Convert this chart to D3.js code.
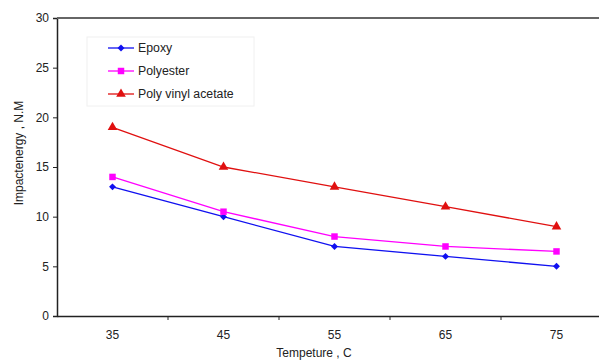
<!DOCTYPE html>
<html>
<head>
<meta charset="utf-8">
<script src="https://cdn.jsdelivr.net/npm/d3@7"></script>
<style>
body { margin: 0; background: #fff; }
text { font-family: "Liberation Sans", Arial, sans-serif; fill: #222; }
.axis text { font-size: 12px; }
.lbl { font-size: 12px; }
.legend { font-size: 12.3px; }
</style>
</head>
<body>
<svg id="chart" width="599" height="363"></svg>
<script>
let temps = ["35", "45", "55", "65", "75"]
let epoxy = [13, 10, 7, 6, 5]
let polyester = [14, 10.5, 8, 7, 6.5]
let pva = [19, 15, 13, 11, 9]
let seriesNames = ["Epoxy", "Polyester", "Poly vinyl acetate"]
let seriesColors = ["#1010f0", "#ff00ff", "#e01010"]
let yTicks = [0, 5, 10, 15, 20, 25, 30]

let svg = d3.select("#chart")
let mLeft = 57, mRight = 612, mTop = 18, mBottom = 316

let xScale = d3.scaleBand().domain(temps).range([mLeft, mRight])
let yScale = d3.scaleLinear().domain([0, 30]).range([mBottom, mTop])

// axes
let x_axis = d3.axisBottom(xScale).tickSize(0).tickPadding(14)
let y_axis = d3.axisLeft(yScale).tickValues(yTicks).tickSize(4).tickPadding(4)

let gx = svg.append("g").attr("class", "axis")
    .attr("transform", `translate(0,${mBottom})`)
    .call(x_axis)
gx.select(".domain").attr("stroke", "#222").attr("stroke-width", 1.5)
// tick marks between categories
gx.selectAll(".sep").data(temps.slice(1))
    .enter().append("line")
    .attr("x1", d => xScale(d)).attr("x2", d => xScale(d))
    .attr("y1", 0).attr("y2", 4)
    .attr("stroke", "#222")

let gy = svg.append("g").attr("class", "axis")
    .attr("transform", `translate(${mLeft},0)`)
    .call(y_axis)
gy.select(".domain").attr("stroke", "#222").attr("stroke-width", 1.5)
gy.selectAll(".tick line").attr("stroke", "#222")

// top frame line
svg.append("line").attr("x1", mLeft).attr("x2", 599)
    .attr("y1", mTop).attr("y2", mTop)
    .attr("stroke", "#666").attr("stroke-width", 2)

// labels
svg.append("text").attr("class", "lbl")
    .attr("x", 314).attr("y", 357)
    .attr("text-anchor", "middle")
    .text("Tempeture , C")
svg.append("text").attr("class", "lbl")
    .attr("transform", `translate(23,153) rotate(-90)`)
    .attr("text-anchor", "middle")
    .text("Impactenergy , N.M")

let allSeries = [epoxy, polyester, pva]
let symbols = [d3.symbolSquare, d3.symbolSquare, d3.symbolTriangle]
let symSizes = [24, 42, 40]
let symRot = [45, 0, 0]
let xc = d => xScale(d) + xScale.bandwidth() / 2

let line = d3.line().x((d, i) => xc(temps[i])).y(d => yScale(d))

allSeries.forEach(function (vals, s) {
    svg.append("path").datum(vals)
        .attr("d", line)
        .attr("fill", "none")
        .attr("stroke", seriesColors[s])
        .attr("stroke-width", 1.3)
    svg.selectAll(".m" + s).data(vals).enter()
        .append("path")
        .attr("transform", (d, i) => `translate(${xc(temps[i])},${yScale(d)}) rotate(${symRot[s]})`)
        .attr("d", d3.symbol().type(symbols[s]).size(symSizes[s]))
        .attr("fill", seriesColors[s])
})

// legend
let lg = svg.append("g")
lg.append("rect").attr("x", 87).attr("y", 37).attr("width", 167).attr("height", 69)
    .attr("fill", "#fff").attr("stroke", "#f0f0f0")
seriesNames.forEach(function (d, i) {
    let ly = 48 + i * 23
    lg.append("line").attr("x1", 108).attr("x2", 134).attr("y1", ly).attr("y2", ly)
        .attr("stroke", seriesColors[i]).attr("stroke-width", 1.3)
    lg.append("path").attr("transform", `translate(121,${ly}) rotate(${symRot[i]})`)
        .attr("d", d3.symbol().type(symbols[i]).size(symSizes[i]))
        .attr("fill", seriesColors[i])
    lg.append("text").attr("class", "legend")
        .attr("x", 138).attr("y", ly + 4).text(d)
})
</script>
</body>
</html>
